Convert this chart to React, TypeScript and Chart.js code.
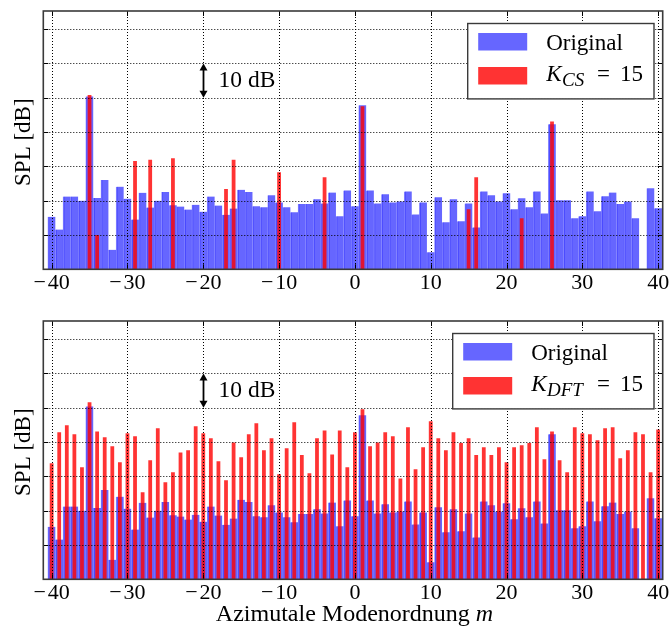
import React, { useEffect, useRef } from "react";
import { Chart, registerables } from "chart.js";

Chart.register(...registerables);

// ---------- data ----------
const modes = [
  -40, -39, -38, -37, -36, -35, -34, -33, -32, -31, -30, -29, -28, -27, -26, -25, -24, -23, -22, -21,
  -20, -19, -18, -17, -16, -15, -14, -13, -12, -11, -10, -9, -8, -7, -6, -5, -4, -3, -2, -1,
  0, 1, 2, 3, 4, 5, 6, 7, 8, 9, 10, 11, 12, 13, 14, 15, 16, 17, 18, 19,
  20, 21, 22, 23, 24, 25, 26, 27, 28, 29, 30, 31, 32, 33, 34, 35, 36, 37, 38, 39, 40,
];

const originalSPL: (number | null)[] = [
  15.3, 11.6, 21.2, 21.2, 20.0, 50.4, 20.8, 26.0, 5.7, 24.1, 20.6, 14.5, 22.3, 18.0, 20.0, 22.5, 18.7, 18.3, 17.4, 18.8,
  16.8, 21.2, 18.6, 15.9, 17.7, 23.2, 22.5, 18.4, 18.1, 21.6, 19.5, 18.1, 16.6, 19.0, 19.0, 20.4, 19.2, 22.4, 15.5, 23.0,
  18.4, 47.8, 23.0, 19.2, 21.9, 19.5, 19.8, 22.7, 16.0, 19.5, 5.0, 21.0, 13.7, 20.4, 14.0, 19.2, 12.2, 22.7, 21.6, 19.8,
  22.2, 17.5, 20.7, 18.1, 22.7, 16.3, 42.3, 20.1, 20.1, 14.9, 15.5, 22.7, 16.9, 21.3, 22.4, 19.0, 19.8, 14.9, null, 23.6, 17.8,
];

const csModes = [-35, -34, -29, -27, -24, -17, -16, -10, -4, 1, 15, 16, 22, 26];
const csSPL = [50.8, 10.0, 31.6, 31.9, 32.4, 23.4, 31.9, 28.3, 26.8, 47.5, 17.5, 26.8, 14.9, 43.1];

const dftSPL = [
  33.8, 42.9, 44.9, 42.3, 32.7, 51.6, 43.1, 41.4, 38.8, 34.1, 42.6, 41.7, 25.4, 34.7, 44.0, 28.3, 31.2, 37.0, 37.6, 44.6,
  42.6, 41.1, 34.4, 28.9, 39.9, 35.6, 42.3, 45.5, 37.6, 41.1, 30.6, 38.2, 45.8, 36.2, 30.9, 41.1, 43.4, 36.4, 43.4, 32.7,
  42.9, 49.6, 38.8, 39.9, 42.9, 41.7, 29.4, 44.3, 32.1, 38.5, 46.1, 41.1, 37.6, 42.9, 39.7, 41.1, 36.2, 38.5, 36.2, 38.5,
  34.1, 38.5, 39.1, 39.7, 44.3, 35.0, 43.1, 34.7, 31.2, 44.3, 42.6, 42.3, 40.5, 44.0, 44.3, 35.3, 37.6, 42.9, 42.3, 31.2, 43.7,
];

const xTicks = [-40, -30, -20, -10, 0, 10, 20, 30, 40];
const yTicks = [10, 20, 30, 40, 50, 60, 70];

const X_MIN = -41.1;
const X_MAX = 40.6;
const Y_MIN = 0;
const Y_MAX = 75.3;

const BLUE = "rgba(0,0,255,0.6)";
const BLUE_EDGE = "rgba(0,0,255,0.45)";
const RED = "rgba(255,0,0,0.8)";
const SERIF = '"Liberation Serif", "DejaVu Serif", serif';

type PanelProps = {
  top: number;
  height: number;
  redModes: number[];
  redValues: number[];
  sub: string;
  legendLeft: number;
  xLabel: boolean;
};

function makeDecor(p: PanelProps) {
  return {
    id: "decor",
    afterDatasetsDraw(chart: any) {
      const { ctx, chartArea, scales } = chart;
      const { left, right, top, bottom } = chartArea;
      const xs = scales.x;
      const ys = scales.y;
      ctx.save();

      // grid (dotted, over bars)
      ctx.strokeStyle = "#000";
      ctx.lineWidth = 1;
      ctx.setLineDash([1, 2]);
      for (const t of xTicks) {
        const px = Math.round(xs.getPixelForValue(t)) + 0.5;
        ctx.beginPath();
        ctx.moveTo(px, top);
        ctx.lineTo(px, bottom);
        ctx.stroke();
      }
      for (const t of yTicks) {
        const py = Math.round(ys.getPixelForValue(t)) + 0.5;
        ctx.beginPath();
        ctx.moveTo(left, py);
        ctx.lineTo(right, py);
        ctx.stroke();
      }
      ctx.setLineDash([]);

      // inward tick marks
      const tl = 5;
      ctx.beginPath();
      for (const t of xTicks) {
        const px = Math.round(xs.getPixelForValue(t)) + 0.5;
        ctx.moveTo(px, bottom);
        ctx.lineTo(px, bottom - tl);
        ctx.moveTo(px, top);
        ctx.lineTo(px, top + tl);
      }
      for (const t of yTicks) {
        const py = Math.round(ys.getPixelForValue(t)) + 0.5;
        ctx.moveTo(left, py);
        ctx.lineTo(left + tl, py);
        ctx.moveTo(right, py);
        ctx.lineTo(right - tl, py);
      }
      ctx.stroke();

      // frame
      ctx.strokeStyle = "#3a3a3a";
      ctx.lineWidth = 1.6;
      ctx.strokeRect(left, top, right - left, bottom - top);

      // tick labels
      ctx.fillStyle = "#000";
      ctx.font = `22px ${SERIF}`;
      ctx.textAlign = "center";
      ctx.textBaseline = "middle";
      for (const t of xTicks) {
        const px = xs.getPixelForValue(t);
        const lab = t < 0 ? "\u2212\u200A" + Math.abs(t) : String(t);
        ctx.fillText(lab, px, bottom + 14);
      }

      // y label
      ctx.save();
      ctx.font = `23px ${SERIF}`;
      ctx.translate(24, (top + bottom) / 2 + 2);
      ctx.rotate(-Math.PI / 2);
      ctx.fillText("SPL [dB]", 0, 0);
      ctx.restore();

      // x label
      if (p.xLabel) {
        const a = "Azimutale Modenordnung ";
        ctx.font = `24px ${SERIF}`;
        const wa = ctx.measureText(a).width;
        ctx.font = `italic 24px ${SERIF}`;
        const wb = ctx.measureText("m").width;
        const cx = (left + right) / 2 + 1.5;
        const sx = cx - (wa + wb) / 2;
        ctx.textAlign = "left";
        ctx.textBaseline = "alphabetic";
        ctx.font = `24px ${SERIF}`;
        ctx.fillText(a, sx, bottom + 42);
        ctx.font = `italic 24px ${SERIF}`;
        ctx.fillText("m", sx + wa, bottom + 42);
      }

      // 10 dB arrow
      const ax = Math.round(xs.getPixelForValue(-20)) + 0.5;
      const y1 = ys.getPixelForValue(60);
      const y2 = ys.getPixelForValue(50);
      ctx.strokeStyle = "#000";
      ctx.fillStyle = "#000";
      ctx.lineWidth = 1.8;
      ctx.beginPath();
      ctx.moveTo(ax, y1 + 5);
      ctx.lineTo(ax, y2 - 5);
      ctx.stroke();
      ctx.beginPath();
      ctx.moveTo(ax, y1);
      ctx.lineTo(ax - 4, y1 + 7);
      ctx.lineTo(ax + 4, y1 + 7);
      ctx.closePath();
      ctx.fill();
      ctx.beginPath();
      ctx.moveTo(ax, y2);
      ctx.lineTo(ax - 4, y2 - 7);
      ctx.lineTo(ax + 4, y2 - 7);
      ctx.closePath();
      ctx.fill();
      ctx.font = `23.5px ${SERIF}`;
      ctx.textAlign = "left";
      ctx.textBaseline = "middle";
      ctx.fillText("10 dB", ax + 15, (y1 + y2) / 2);

      // legend
      const bl = p.legendLeft;
      const br = right - 8.7;
      const bt = top + 12.5;
      const bh = 75.4;
      ctx.fillStyle = "#fff";
      ctx.fillRect(bl, bt, br - bl, bh);
      ctx.strokeStyle = "#3a3a3a";
      ctx.lineWidth = 1.4;
      ctx.strokeRect(bl, bt, br - bl, bh);
      const pl = bl + 10.5;
      const pw = 49;
      const ph = 17.5;
      const p1 = bt + 9.5;
      const p2 = bt + 43.5;
      ctx.fillStyle = BLUE;
      ctx.fillRect(pl, p1, pw, ph);
      ctx.fillStyle = RED;
      ctx.fillRect(pl, p2, pw, ph);
      const tx = bl + 78.5;
      ctx.fillStyle = "#000";
      ctx.textAlign = "left";
      ctx.textBaseline = "alphabetic";
      ctx.font = `23px ${SERIF}`;
      ctx.fillText("Original", tx, p1 + ph / 2 + 8.7);
      const base2 = p2 + ph / 2 + 5.5;
      ctx.font = `italic 23px ${SERIF}`;
      ctx.fillText("K", tx, base2);
      const sx2 = tx + ctx.measureText("K").width + 0.5;
      ctx.font = `italic 19px ${SERIF}`;
      ctx.fillText(p.sub, sx2, base2 + 4.5);
      ctx.font = `23px ${SERIF}`;
      ctx.fillText("=", br - 57, base2);
      ctx.fillText("15", br - 34, base2);

      ctx.restore();
    },
  };
}

function Panel(p: PanelProps) {
  const ref = useRef<HTMLCanvasElement | null>(null);
  useEffect(() => {
    if (!ref.current) return;
    const blueData = modes.map((m, i) => ({ x: m, y: originalSPL[i] }));
    const redData = p.redModes.map((m, i) => ({ x: m, y: p.redValues[i] }));
    const chart = new Chart(ref.current, {
      type: "bar",
      data: {
        datasets: [
          {
            label: "Original",
            data: blueData as any,
            backgroundColor: BLUE,
            borderColor: BLUE_EDGE,
            borderWidth: { left: 1, right: 0, top: 0, bottom: 0 },
            borderSkipped: false,
            barPercentage: 1,
            categoryPercentage: 1,
            grouped: false,
            order: 2,
          } as any,
          {
            label: "K = 15",
            data: redData as any,
            backgroundColor: RED,
            barPercentage: 0.5,
            categoryPercentage: 1,
            grouped: false,
            order: 1,
          } as any,
        ],
      },
      options: {
        animation: false,
        responsive: false,
        maintainAspectRatio: false,
        devicePixelRatio: 1,
        layout: { padding: { left: 43.3, right: 7.3, top: 11, bottom: p.height - 269.3 } },
        scales: {
          x: { type: "linear", min: X_MIN, max: X_MAX, offset: false, display: false },
          y: { type: "linear", min: Y_MIN, max: Y_MAX, display: false },
        },
        plugins: { legend: { display: false }, tooltip: { enabled: false } },
      },
      plugins: [makeDecor(p)],
    });
    return () => chart.destroy();
  }, []);
  return (
    <canvas
      ref={ref}
      width={670}
      height={p.height}
      style={{ position: "absolute", left: 0, top: p.top, display: "block" }}
    />
  );
}

export default function App() {
  return (
    <div style={{ position: "absolute", left: 0, top: 0, width: 670, height: 628, background: "#fff" }}>
      <Panel top={0} height={310} redModes={csModes} redValues={csSPL} sub="CS" legendLeft={467.7} xLabel={false} />
      <Panel top={310} height={318} redModes={modes} redValues={dftSPL} sub="DFT" legendLeft={452.7} xLabel={true} />
    </div>
  );
}
